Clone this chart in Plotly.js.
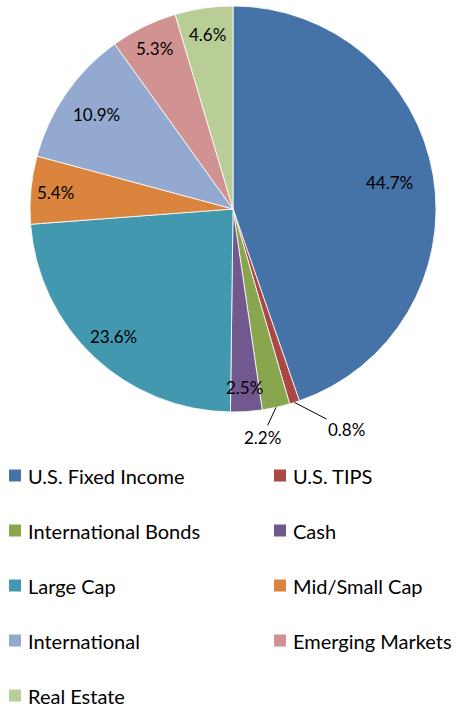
<!DOCTYPE html>
<html><head><meta charset="utf-8">
<script src="https://cdn.plot.ly/plotly-3.0.1.min.js"></script>
<style>html,body{margin:0;padding:0;background:#fff}#chart{width:460px;height:708px}</style>
</head><body><div id="chart"></div>
<script>
const categories = ["U.S. Fixed Income","U.S. TIPS","International Bonds","Cash","Large Cap","Mid/Small Cap","International","Emerging Markets","Real Estate"];
const values = [44.7, 0.8, 2.2, 2.5, 23.6, 5.4, 10.9, 5.3, 4.6];
const colors = ["#4572A7","#AA4643","#89A54E","#71588F","#4198AF","#DB843D","#93A9CF","#D19392","#B9CD96"];

const W = 460, H = 708;
const cx = 233, cy = 209, R = 203;
const FONT = "Lato, 'Open Sans', sans-serif";

// label placement (style): radius fraction for inside labels, pixel offsets for leader-line labels
const labelRadius = [0.78, null, null, 0.88, 0.86, 0.88, 0.82, 0.88, 0.87];
const outsideOffsets = { 1: [52, 27], 2: [-14, 30] };

const trace = {
  type: "pie",
  values: values,
  labels: categories,
  marker: { colors: colors, line: { color: "rgba(255,255,255,0.8)", width: 1 } },
  sort: false,
  direction: "clockwise",
  rotation: 0,
  textinfo: "none",
  hoverinfo: "label+percent",
  showlegend: false,
  domain: { x: [(cx - R) / W, (cx + R) / W], y: [1 - (cy + R) / H, 1 - (cy - R) / H] }
};

const annotations = [];
const shapes = [];
const total = values.reduce((a, b) => a + b, 0);
let cum = 0;
values.forEach((v, i) => {
  const mid = (cum + v / 2) / total * 2 * Math.PI;
  cum += v;
  const txt = (v / total * 100).toFixed(1) + "%";
  if (outsideOffsets[i]) {
    const px = cx + R * Math.sin(mid), py = cy - R * Math.cos(mid);
    annotations.push({
      xref: "paper", yref: "paper", x: px / W, y: 1 - py / H,
      ax: outsideOffsets[i][0], ay: outsideOffsets[i][1],
      text: txt, showarrow: true, arrowhead: 0, arrowwidth: 1, arrowcolor: "#000",
      standoff: 0, startstandoff: 0,
      font: { family: FONT, size: 17, color: "#000" }
    });
  } else {
    const r = R * labelRadius[i];
    const px = cx + r * Math.sin(mid), py = cy - r * Math.cos(mid);
    annotations.push({
      xref: "paper", yref: "paper", x: px / W, y: 1 - py / H,
      xanchor: "center", yanchor: "middle", showarrow: false, text: txt,
      font: { family: FONT, size: 17, color: "#000" }
    });
  }
});

// legend: 2 columns
const rowY0 = 475.5, rowGap = 55;
const colX = [9, 274];
categories.forEach((c, i) => {
  const col = i % 2, row = Math.floor(i / 2);
  const y = rowY0 + row * rowGap;
  const x = colX[col];
  shapes.push({ type: "rect", xref: "paper", yref: "paper",
    x0: x / W, x1: (x + 12) / W, y0: 1 - (y + 6) / H, y1: 1 - (y - 6) / H,
    fillcolor: colors[i], line: { width: 0 } });
  annotations.push({ xref: "paper", yref: "paper", x: (x + 17) / W, y: 1 - y / H,
    xanchor: "left", yanchor: "middle", showarrow: false, text: c,
    font: { family: FONT, size: 20, color: "#000" } });
});

const layout = {
  width: W, height: H,
  margin: { l: 0, r: 0, t: 0, b: 0 },
  paper_bgcolor: "#fff",
  showlegend: false,
  annotations: annotations,
  shapes: shapes
};
Plotly.newPlot("chart", [trace], layout, { displayModeBar: false, staticPlot: true });
</script></body></html>
